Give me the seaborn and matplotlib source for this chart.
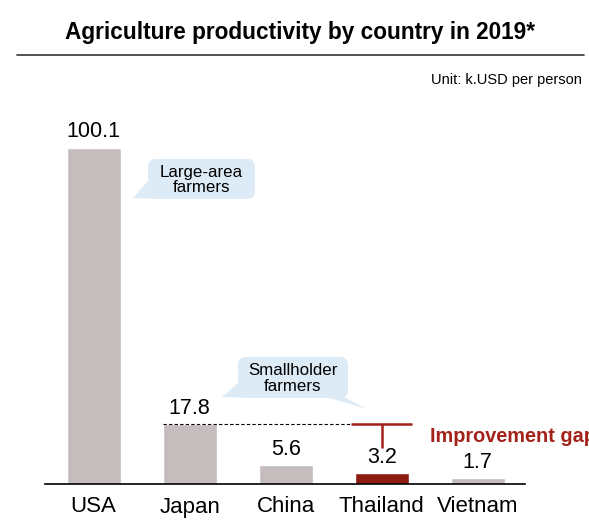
import matplotlib
matplotlib.use("Agg")
import matplotlib.pyplot as plt
from matplotlib.patches import FancyBboxPatch, Polygon
from matplotlib.lines import Line2D
import seaborn as sns
import pandas as pd

# Agricultural output per worker, 2019 (k.USD per person)
countries = ["USA", "Japan", "China", "Thailand", "Vietnam"]
productivity = [100.1, 17.8, 5.6, 3.2, 1.7]
value_labels = ["100.1", "17.8", "5.6", "3.2", "1.7"]

title_text = "Agriculture productivity by country in 2019*"
unit_text = "Unit: k.USD per person"
large_note = "Large-area\nfarmers"
small_note = "Smallholder\nfarmers"
gap_text = "Improvement gap"

GREY = "#C5BDBD"
DARK_RED = "#8E1B12"
RED_TEXT = "#A3231B"
BUBBLE = "#DDEBF6"

sns.set_theme(style="white")
plt.rcParams["font.family"] = ["Liberation Sans", "DejaVu Sans"]

W, H = 589, 527
fig = plt.figure(figsize=(W / 100, H / 100), dpi=100)

# main axes placed in pixel terms: baseline at y=484, x from 45 to 525
ax = fig.add_axes([45 / W, (H - 484) / H, 480 / W, 384 / H])

df = pd.DataFrame({"country": countries, "value": productivity})
palette = {c: (DARK_RED if c == "Thailand" else GREY) for c in countries}
sns.barplot(data=df, x="country", y="value", hue="country", palette=palette,
            legend=False, width=0.5625, saturation=1, ax=ax, order=countries)

ax.set_xlim(-0.507, 4.493)
ax.set_ylim(0, 114.4)
ax.set_xlabel("")
ax.set_ylabel("")
ax.set_yticks([])
for s in ["top", "right", "left"]:
    ax.spines[s].set_visible(False)
ax.spines["bottom"].set_color("black")
ax.spines["bottom"].set_linewidth(1.2)
ax.tick_params(axis="x", length=0, pad=9, labelsize=16, labelcolor="black")
ax.patch.set_alpha(0)

# label each bar with its value
for bar, lab in zip(ax.patches, value_labels):
    ax.annotate(lab, (bar.get_x() + bar.get_width() / 2, bar.get_height()),
                xytext=(0, 4), textcoords="offset points", ha="center",
                va="bottom", fontsize=15.5, color="black")

# reference level from Japan across to Thailand
ij, it = countries.index("Japan"), countries.index("Thailand")
ax.plot([ij - 0.28, it + 0.15], [productivity[ij]] * 2, ls=(0, (3, 2)),
        color="black", lw=0.8, zorder=3)
ax.plot([it - 0.32, it + 0.32], [productivity[ij]] * 2, color=RED_TEXT,
        lw=1.8, zorder=4, solid_capstyle="butt")
ax.plot([it, it], [productivity[ij], productivity[it] + 7.5], color=RED_TEXT,
        lw=1.8, zorder=4, solid_capstyle="butt")

# overlay axes in pixel coordinates for header and callouts
ov = fig.add_axes([0, 0, 1, 1])
ov.set_xlim(0, W)
ov.set_ylim(H, 0)
ov.axis("off")
ov.patch.set_alpha(0)

ov.text(300, 32, title_text, ha="center", va="center", fontsize=16.3,
        fontweight="bold", color="black")
ov.add_line(Line2D([17, 584], [55, 55], color="#333333", lw=1.2))
ov.text(582, 80, unit_text, ha="right", va="center", fontsize=10.5,
        color="black")


def bubble(x0, y0, x1, y1, tails, text):
    box = FancyBboxPatch((x0, y0), x1 - x0, y1 - y0,
                         boxstyle="round,pad=0,rounding_size=8",
                         fc=BUBBLE, ec="none", zorder=5)
    ov.add_patch(box)
    for tri in tails:
        ov.add_patch(Polygon(tri, closed=True, fc=BUBBLE, ec="none", zorder=5))
    ov.text((x0 + x1) / 2, (y0 + y1) / 2 + 1, text, ha="center", va="center",
            fontsize=12.2, color="black", linespacing=1.08, zorder=6)


bubble(148, 159, 255, 199,
       [[(149, 180), (133, 198), (160, 199)]],
       large_note)
bubble(238, 357, 348, 398,
       [[(239, 382), (222, 397), (250, 398)],
        [(326, 397), (344, 397), (367, 409)]],
       small_note)

ov.text(430, 437, gap_text, ha="left", va="center", fontsize=14.3,
        fontweight="bold", color=RED_TEXT, clip_on=False)

fig.savefig("out.png", dpi=100)
